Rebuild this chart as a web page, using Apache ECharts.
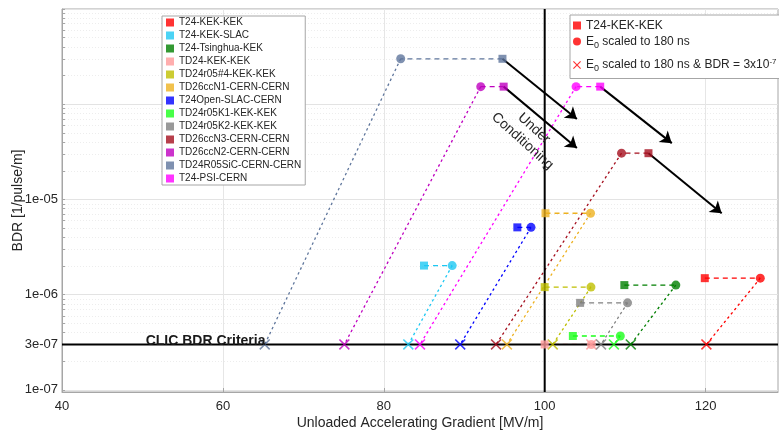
<!DOCTYPE html>
<html>
<head>
<meta charset="utf-8">
<script src="https://cdn.jsdelivr.net/npm/echarts@6/dist/echarts.min.js"></script>
<style>
html, body { margin: 0; padding: 0; background: #fff; }
#chart { width: 779px; height: 433px; }
</style>
</head>
<body>
<div id="chart"></div>
<script>
// structure names (left legend order)
var names = ['T24-KEK-KEK', 'T24-KEK-SLAC', 'T24-Tsinghua-KEK', 'TD24-KEK-KEK', 'TD24r05#4-KEK-KEK',
	'TD26ccN1-CERN-CERN', 'T24Open-SLAC-CERN', 'TD24r05K1-KEK-KEK', 'TD24r05K2-KEK-KEK',
	'TD26ccN3-CERN-CERN', 'TD26ccN2-CERN-CERN', 'TD24R05SiC-CERN-CERN', 'T24-PSI-CERN'];
var colors = ['#ff0000', '#1ec8f3', '#007f00', '#ff9a9a', '#bfbf00', '#edb120', '#0000ff',
	'#1aff1a', '#808080', '#a50f1e', '#bf00bf', '#5f769c', '#ff00ff'];

// measured point (square)
var measGrad = [119.9, 85.0, 109.9, 100.0, 100.0, 100.1, 96.6, 103.5, 104.4, 112.9, 94.9, 94.75, 106.9];
var measBdr = [1.49e-6, 2.02e-6, 1.26e-6, 3e-7, 1.2e-6, 7.16e-6, 5.09e-6, 3.68e-7, 8.2e-7, 3.06e-5, 1.53e-4, 3.0e-4, 1.53e-4];
// E0 scaled to 180 ns (circle)
var scaledGrad = [126.8, 88.5, 116.3, 105.8, 105.75, 105.7, 98.3, 109.4, 110.3, 109.55, 92.05, 82.1, 103.9];
// E0 scaled to 180 ns & BDR = 3e-7 (cross)
var critGrad = [120.1, 83.05, 110.7, 105.8, 101.0, 95.3, 89.5, 108.6, 107.0, 93.95, 75.1, 65.2, 84.5];
var bdrCriterion = 3e-7;
var gradTarget = 100;

// "under conditioning" arrows, starting at the square of these structures
var arrowFrom = [11, 10, 12, 9];
var arrowEndGrad = [104.0, 104.0, 115.8, 122.0];
var arrowEndBdr = [7.0e-5, 3.46e-5, 3.9e-5, 7.16e-6];

// axes
var xMin = 40, xMax = 129;
var yMin = 9.5e-8, yMax = 1e-3;
var xTicks = [40, 60, 80, 100, 120];
var yLabelTicks = [1e-7, 3e-7, 1e-6, 1e-5];
var yDecades = [1e-7, 1e-6, 1e-5, 1e-4];
var yMinorMult = [1, 2, 3, 4, 5, 6, 7, 8, 9];

var keyNames = ['T24-KEK-KEK', 'E0 scaled to 180 ns', 'E0 scaled to 180 ns & BDR = 3x10-7'];

var font = "'Liberation Sans', Arial, Helvetica, sans-serif";
var txt = '#262626';
var crossPath = 'path://M0,1 L1,0 L5,4 L9,0 L10,1 L6,5 L10,9 L9,10 L5,6 L1,10 L0,9 L4,5 Z';

var yTickValues = [];
for (var d = 0; d < yDecades.length; d++) {
	for (var m = 0; m < yMinorMult.length; m++) {
		yTickValues.push(yDecades[d] * yMinorMult[m]);
	}
}
yTickValues.push(yMax);

function fmtExp(v) {
	var e = Math.floor(Math.log10(v) + 1e-9);
	var mant = Math.round(v / Math.pow(10, e));
	var ee = Math.abs(e);
	return mant + 'e' + (e < 0 ? '-' : '+') + (ee < 10 ? '0' : '') + ee;
}

var series = [];

// CLIC criterion line
series.push({
	name: '_clic',
	type: 'line',
	data: [[xMin, bdrCriterion], [xMax, bdrCriterion]],
	symbol: 'none',
	lineStyle: { color: '#000', width: 2 },
	z: 3,
	markPoint: {
		silent: true,
		symbolSize: 0,
		animation: false,
		data: [
			{
				coord: [57.85, bdrCriterion],
				label: {
					show: true, formatter: 'CLIC BDR Criteria', position: 'top', distance: -4,
					fontFamily: font, fontSize: 14, fontWeight: 'bold', color: '#1a1a1a'
				}
			},
			{
				coord: [97.95, 4.78e-5],
				label: {
					show: true, formatter: 'Under\nConditioning', position: 'inside', rotate: -42,
					align: 'center', fontFamily: font, fontSize: 14, lineHeight: 17, color: txt
				}
			}
		]
	}
});

// 100 MV/m line
series.push({
	name: '_target',
	type: 'line',
	data: [[gradTarget, yMin], [gradTarget, yMax]],
	symbol: 'none',
	lineStyle: { color: '#000', width: 2 },
	z: 3,
	markLine: {
		silent: true,
		symbol: ['none', 'none'],
		animation: false,
		lineStyle: { opacity: 0 },
		data: [{
			xAxis: gradTarget,
			label: {
				show: true, formatter: '100 MV/m', position: 'insideStartTop', distance: 5,
				fontFamily: font, fontSize: 14, fontWeight: 'bold', color: '#000'
			}
		}]
	}
});

for (var i = 0; i < names.length; i++) {
	var c = colors[i];
	series.push({
		name: '_dash' + i,
		type: 'line',
		data: [[measGrad[i], measBdr[i]], [scaledGrad[i], measBdr[i]]],
		symbol: 'none',
		lineStyle: { color: c, width: 1.3, type: [5, 4] },
		z: 2
	});
	series.push({
		name: '_dot' + i,
		type: 'line',
		data: [[scaledGrad[i], measBdr[i]], [critGrad[i], bdrCriterion]],
		symbol: 'none',
		lineStyle: { color: c, width: 1.3, type: [2.5, 3] },
		z: 2
	});
}
for (var i = 0; i < names.length; i++) {
	var c = colors[i];
	series.push({
		name: i == 0 ? keyNames[2] : '_x' + i,
		type: 'scatter',
		symbol: crossPath,
		symbolSize: 11,
		itemStyle: { color: c },
		data: [[critGrad[i], bdrCriterion]],
		z: 4
	});
	series.push({
		name: i == 0 ? keyNames[1] : '_o' + i,
		type: 'scatter',
		symbol: 'circle',
		symbolSize: 9,
		itemStyle: { color: c },
		data: [[scaledGrad[i], measBdr[i]]],
		z: 5
	});
	series.push({
		name: names[i],
		type: 'scatter',
		symbol: 'rect',
		symbolSize: 8,
		itemStyle: { color: c },
		data: [[measGrad[i], measBdr[i]]],
		z: 5
	});
}

var arrows = [];
for (var k = 0; k < arrowFrom.length; k++) {
	var j = arrowFrom[k];
	arrows.push({ coords: [[measGrad[j], measBdr[j]], [arrowEndGrad[k], arrowEndBdr[k]]] });
}
series.push({
	name: '_arrows',
	type: 'lines',
	coordinateSystem: 'cartesian2d',
	symbol: ['none', 'arrow'],
	symbolSize: [0, 11],
	lineStyle: { color: '#000', width: 2, opacity: 1 },
	data: arrows,
	z: 4
});

var chart = echarts.init(document.getElementById('chart'));
chart.setOption({
	animation: false,
	textStyle: { fontFamily: font },
	grid: {
		left: 62, top: 9, right: 1, bottom: 41,
		containLabel: false, outerBoundsMode: 'none',
		show: true, borderColor: '#a6a6a6', borderWidth: 1
	},
	legend: [{
		orient: 'vertical',
		left: 162, top: 16,
		padding: [1, 4, 1, 4],
		itemWidth: 8, itemHeight: 8, itemGap: 2,
		selectedMode: false,
		backgroundColor: '#fff',
		borderColor: '#a6a6a6', borderWidth: 1, borderRadius: 0,
		textStyle: { fontFamily: font, fontSize: 10, lineHeight: 11, color: txt },
		data: names.map(function(n) { return { name: n, icon: 'rect' }; })
	}, {
		orient: 'vertical',
		left: 570, top: 15,
		padding: [4.5, 30, 3, 3],
		itemWidth: 8, itemHeight: 8, itemGap: 4,
		selectedMode: false,
		backgroundColor: '#fff',
		borderColor: '#a6a6a6', borderWidth: 1, borderRadius: 0,
		data: [
			{ name: keyNames[0], icon: 'rect' },
			{ name: keyNames[1], icon: 'circle' },
			{ name: keyNames[2], icon: crossPath }
		],
		formatter: function(name) {
			if (name === keyNames[1]) return '{b2|E}{s2|0}{b2| scaled to 180 ns}';
			if (name === keyNames[2]) return '{b3|E}{s3|0}{b3| scaled to 180 ns & BDR = 3x10}{p3|-7}';
			return '{b1|' + name + '}';
		},
		textStyle: {
			fontFamily: font, fontSize: 12, color: txt,
			rich: {
				b1: { fontFamily: font, fontSize: 12, lineHeight: 14, color: txt },
				b2: { fontFamily: font, fontSize: 12, lineHeight: 18, color: txt },
				s2: { fontFamily: font, fontSize: 9, lineHeight: 9, verticalAlign: 'bottom', color: txt },
				b3: { fontFamily: font, fontSize: 12, lineHeight: 21, color: txt },
				s3: { fontFamily: font, fontSize: 9, lineHeight: 9, verticalAlign: 'bottom', padding: [0, 0, 2, 0], color: txt },
				p3: { fontFamily: font, fontSize: 8, lineHeight: 8, verticalAlign: 'top', padding: [3, 0, 0, 0], color: txt }
			}
		}
	}],
	xAxis: {
		type: 'value',
		min: xMin, max: xMax,
		name: 'Unloaded Accelerating Gradient [MV/m]',
		nameLocation: 'middle', nameGap: 24, nameMoveOverlap: false,
		nameTextStyle: { fontFamily: font, fontSize: 14, color: txt },
		axisLine: { lineStyle: { color: '#a6a6a6' } },
		axisTick: { inside: true, length: 4, customValues: xTicks, lineStyle: { color: '#a6a6a6' } },
		axisLabel: { customValues: xTicks, margin: 8, fontFamily: font, fontSize: 13, color: txt },
		splitLine: { show: true, lineStyle: { color: '#e6e6e6', width: 1 } }
	},
	yAxis: [{
		type: 'log', logBase: 10,
		min: yMin, max: yMax,
		name: 'BDR [1/pulse/m]',
		nameLocation: 'middle', nameGap: 37, nameMoveOverlap: false,
		nameTextStyle: { fontFamily: font, fontSize: 14, color: txt },
		axisLine: { lineStyle: { color: '#a6a6a6' } },
		axisTick: { inside: true, length: 3, customValues: yTickValues, lineStyle: { color: '#a6a6a6' } },
		axisLabel: {
			customValues: yLabelTicks, margin: 4, fontFamily: font, fontSize: 13, color: txt,
			formatter: function(v) { return fmtExp(v); }
		},
		splitLine: { show: true, lineStyle: { color: '#ededed', type: [1, 2] } }
	}, {
		type: 'log', logBase: 10,
		min: yMin, max: yMax,
		position: 'left',
		axisLine: { show: false },
		axisTick: { show: false },
		axisLabel: { show: false },
		splitLine: { show: true, lineStyle: { color: '#e3e3e3', width: 1 } }
	}],
	series: series
});
</script>
</body>
</html>
